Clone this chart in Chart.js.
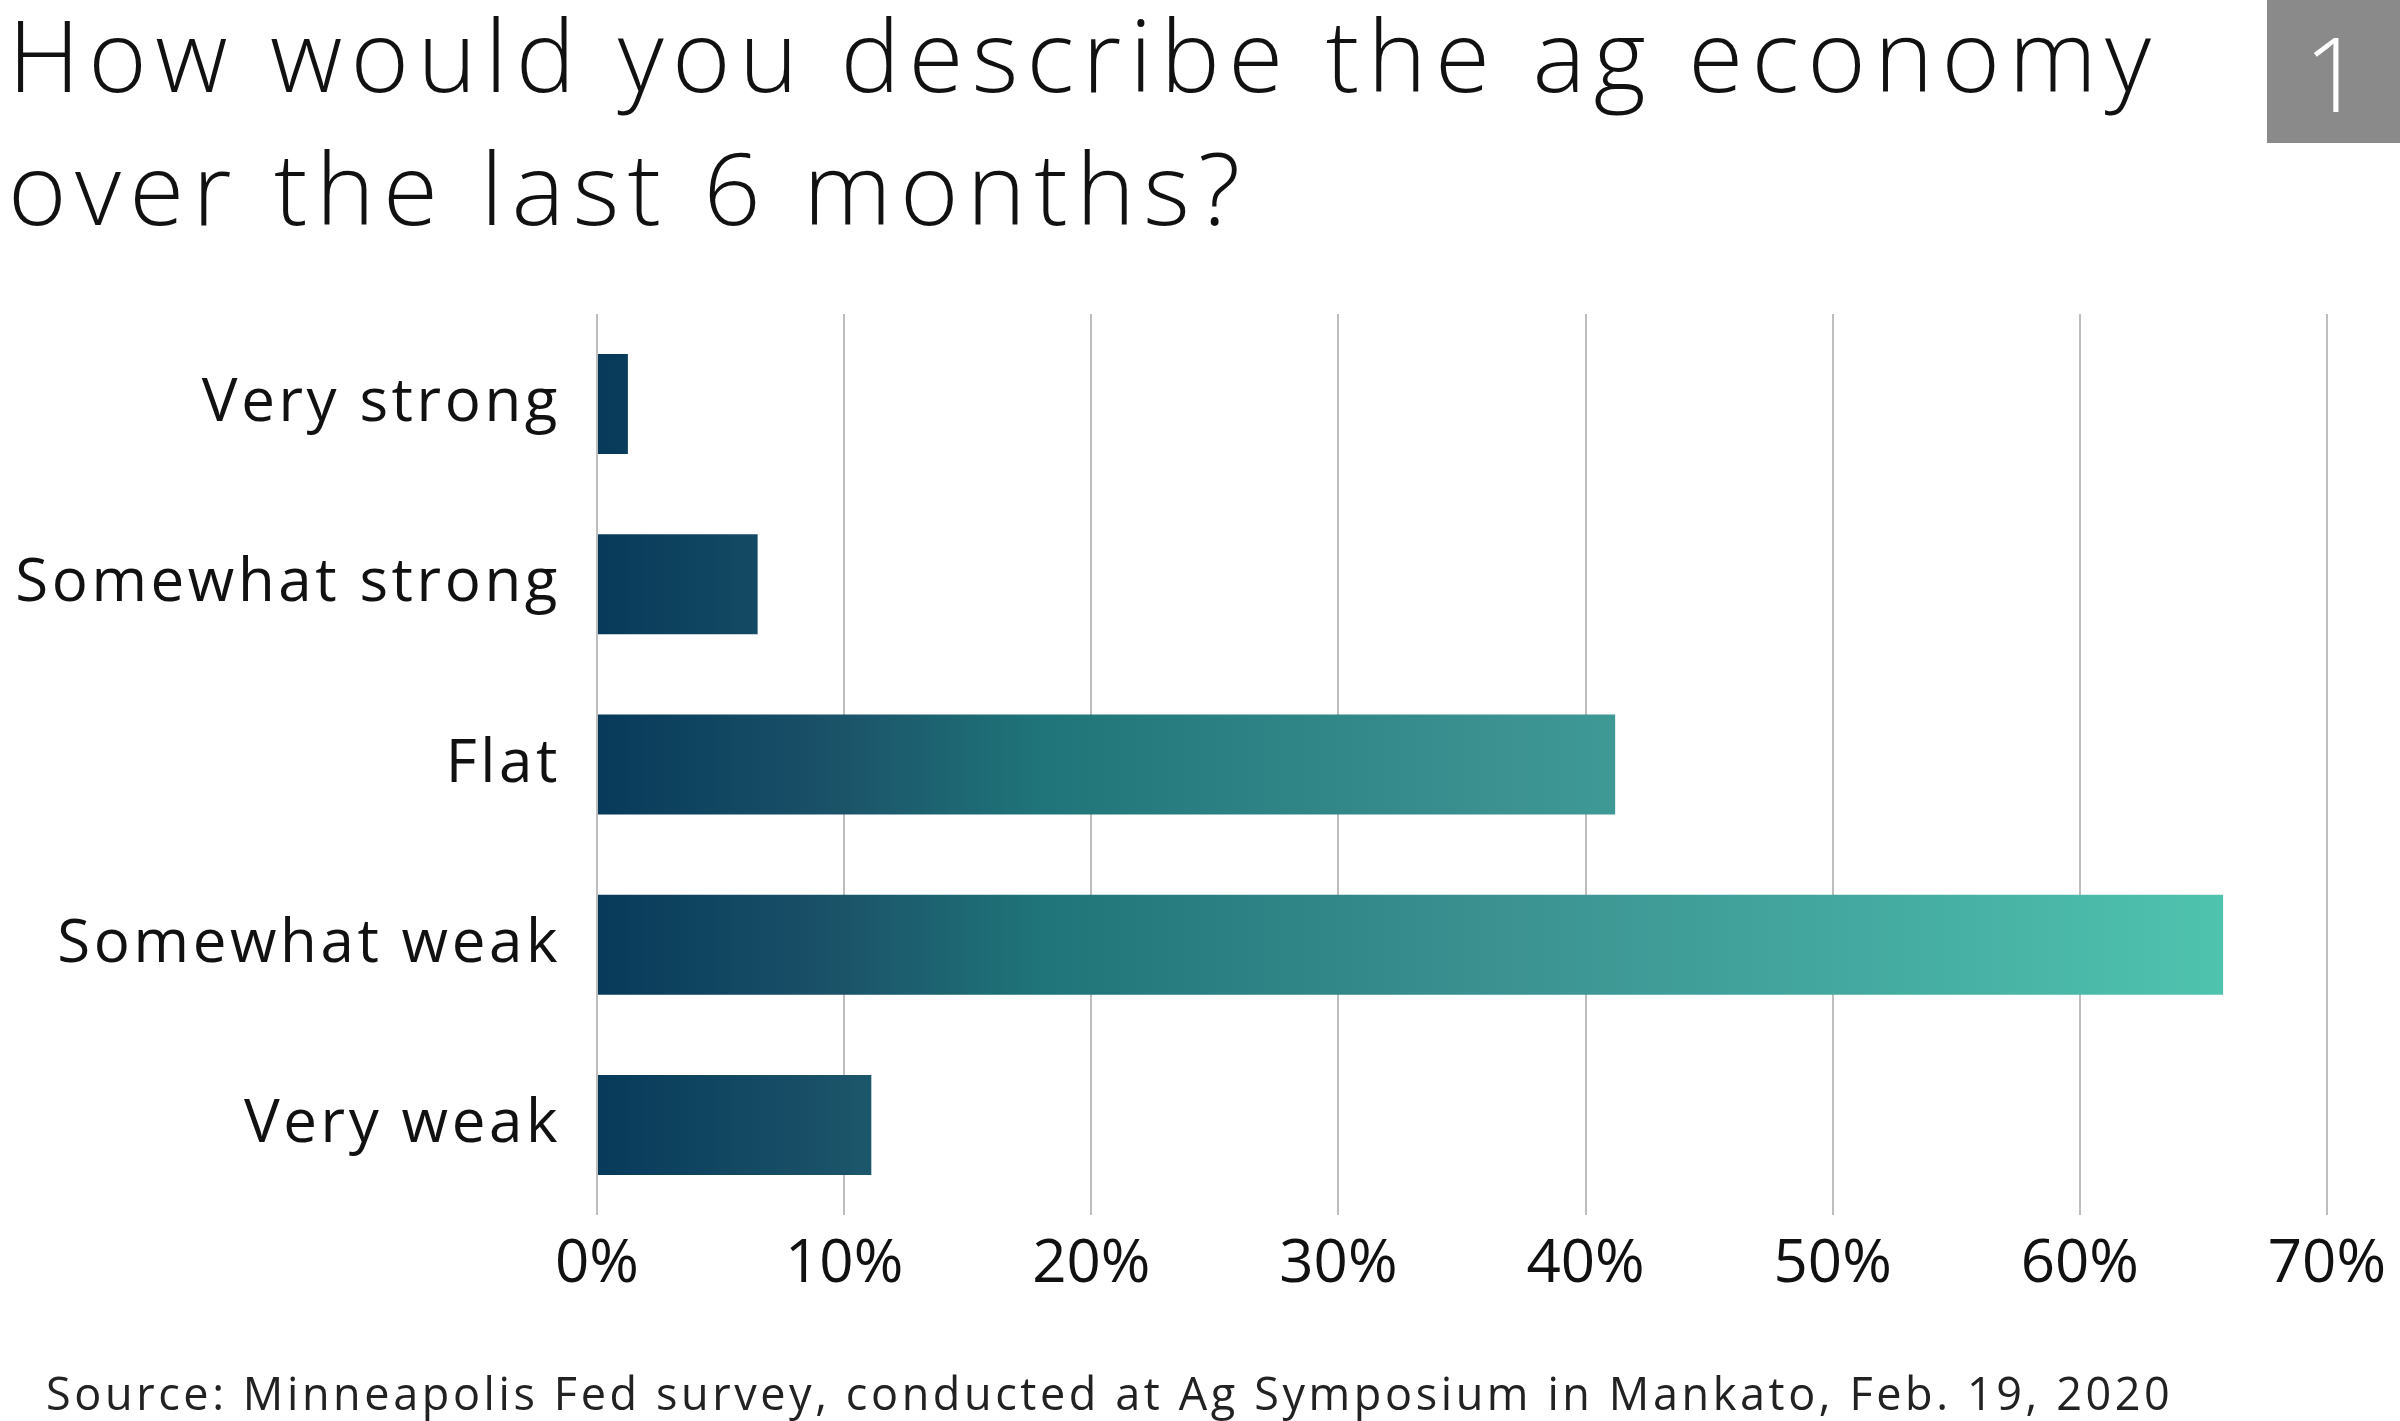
<!DOCTYPE html>
<html>
<head>
<meta charset="utf-8">
<script src="https://cdn.jsdelivr.net/npm/chart.js@4.4.1/dist/chart.umd.min.js"></script>
<style>
  html, body { margin: 0; padding: 0; background: #fff; }
  #wrap { position: relative; width: 2400px; height: 1421px; overflow: hidden; }
  #chart-box { position: absolute; left: 0; top: 0; width: 2400px; height: 1421px; }
  .title {
    position: absolute; left: 8px; top: -13px; width: 2250px;
    font-family: "Open Sans", sans-serif; font-weight: 300;
    font-size: 100px; line-height: 133px; color: #111;
    letter-spacing: 8.3px; white-space: nowrap;
  }
  .badge {
    position: absolute; left: 2267px; top: 0; width: 133px; height: 143px;
    background: #8a8a8a; color: #fff;
    font-family: "Open Sans", sans-serif; font-weight: 300;
    font-size: 104px; line-height: 143px; text-align: center;
  }
  .source {
    position: absolute; left: 46px; top: 1362px;
    font-family: "Open Sans", sans-serif; font-size: 45px; color: #222;
    letter-spacing: 3.6px; white-space: nowrap;
  }
</style>
</head>
<body>
<div id="wrap">
  <div id="chart-box"><canvas id="ag-chart"></canvas></div>
  <div class="title">How would you describe the ag economy<br>over the last 6 months?</div>
  <div class="badge">1</div>
  <div class="source">Source: Minneapolis Fed survey, conducted at Ag Symposium in Mankato, Feb. 19, 2020</div>
</div>
<script>
  // 数据
  var categories = ['Very strong', 'Somewhat strong', 'Flat', 'Somewhat weak', 'Very weak'];
  var shares = [1.25, 6.5, 41.2, 65.8, 11.1];
  var axisMin = 0;
  var axisMax = 70;
  var axisStep = 10;

  // 渐变色标
  var gradStops = [
    [0, '#073a5a'],
    [0.15, '#1b5369'],
    [0.27, '#1f7479'],
    [0.55, '#3b9190'],
    [0.8, '#45aca2'],
    [1, '#4fc3ae']
  ];

  // 横向渐变，按 x 轴像素位置取色
  function barGradient(context) {
    var chart = context.chart;
    if (!chart.chartArea) return gradStops[0][1];
    var x = chart.scales.x;
    var g = chart.ctx.createLinearGradient(
      x.getPixelForValue(0), 0,
      x.getPixelForValue(Math.max.apply(null, shares)), 0
    );
    gradStops.forEach(function(s) { g.addColorStop(s[0], s[1]); });
    return g;
  }

  // 类别标签字距稍宽（只作用于 y 轴标签）
  var labelSpacing = {
    id: 'labelSpacing',
    beforeDraw: function(chart) {
      var y = chart.scales.y;
      if (!y || y._spaced) return;
      var orig = y.drawLabels;
      y.drawLabels = function() {
        var c = this.ctx;
        var prev = c.letterSpacing;
        c.letterSpacing = '3.6px';
        orig.apply(this, arguments);
        c.letterSpacing = prev || '0px';
      };
      y._spaced = true;
    }
  };

  var ctx = document.getElementById('ag-chart');
  new Chart(ctx, {
    type: 'bar',
    data: {
      labels: categories,
      datasets: [{
        data: shares,
        backgroundColor: barGradient,
        borderWidth: 0,
        categoryPercentage: 1,
        barPercentage: 0.555
      }]
    },
    plugins: [labelSpacing],
    options: {
      indexAxis: 'y',
      responsive: true,
      maintainAspectRatio: false,
      animation: false,
      devicePixelRatio: 1,
      layout: {
        padding: { top: 314, right: 67, bottom: 0, left: 0 }
      },
      plugins: {
        legend: { display: false },
        tooltip: { enabled: false }
      },
      scales: {
        x: {
          min: axisMin,
          max: axisMax,
          grid: {
            color: '#bdbdbd',
            lineWidth: 2,
            drawTicks: false
          },
          border: { display: false },
          ticks: {
            stepSize: axisStep,
            padding: 14,
            color: '#111',
            font: { family: 'Open Sans', size: 60 },
            callback: function(v) { return v + '%'; }
          },
          afterFit: function(scale) { scale.height = 206; }
        },
        y: {
          grid: { display: false },
          border: { display: false },
          ticks: {
            padding: 28,
            color: '#111',
            font: { family: 'Open Sans', size: 60 }
          },
          afterFit: function(scale) { scale.width = 597; }
        }
      }
    }
  });
</script>
</body>
</html>
